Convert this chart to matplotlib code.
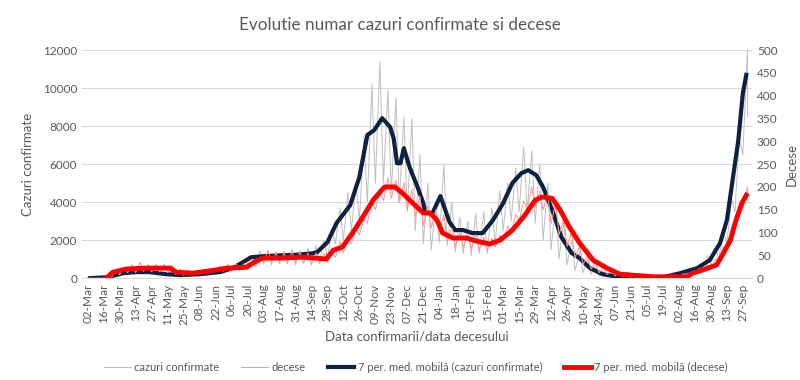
import matplotlib
matplotlib.use("Agg")
import matplotlib.pyplot as plt
import numpy as np
import pandas as pd

plt.rcParams["font.family"] = ["Lato", "DejaVu Sans"]

START = pd.Timestamp("2020-03-02")

# raw daily values, read as one weekly low (Mon) and high (Fri) per week
cases_lo = [0, 2, 15, 60, 190, 250, 240, 270, 190, 180, 150, 130, 110, 120, 150,
            180, 220, 280, 380, 520, 780, 900, 720, 700, 740, 750, 700, 800, 700,
            900, 1100, 1800, 2000, 2500, 3000, 4000, 5000, 5000, 4500, 4000, 3500,
            2500, 1800, 1500, 1900, 1700, 1400, 1300, 1200, 1300, 1300, 1800, 2500,
            3000, 3500, 3500, 2900, 2000, 1500, 1000, 700, 400, 300, 200, 100, 60,
            30, 25, 20, 20, 15, 20, 30, 60, 90, 150, 250, 400, 700, 1000, 1800,
            3500, 6500]
cases_hi = [3, 15, 50, 180, 320, 360, 440, 400, 380, 320, 290, 240, 200, 220, 250,
            320, 460, 500, 700, 880, 1150, 1450, 1450, 1400, 1450, 1500, 1450, 1600,
            1700, 2000, 2500, 3700, 4500, 5000, 7500, 10200, 11400, 9900, 9500,
            8500, 8400, 6500, 5000, 4000, 6000, 4000, 3200, 3000, 3400, 3500, 3700,
            4600, 5000, 5800, 6900, 6700, 6000, 5000, 4000, 3000, 2000, 1400, 1000,
            700, 400, 250, 150, 100, 80, 70, 70, 90, 130, 200, 330, 450, 700, 1200,
            1600, 2500, 4200, 7300, 12000]
deaths_lo = [0, 0, 0, 3, 8, 12, 12, 15, 14, 14, 12, 8, 6, 7, 8, 12, 14, 15, 15, 16,
             18, 25, 35, 35, 35, 35, 35, 32, 30, 32, 35, 45, 55, 75, 95, 120, 150,
             170, 175, 165, 150, 135, 115, 110, 100, 80, 70, 68, 65, 60, 60, 68, 80,
             100, 125, 150, 155, 150, 120, 95, 70, 45, 30, 20, 12, 8, 5, 3, 2, 1, 1,
             1, 1, 2, 3, 5, 8, 15, 22, 40, 60, 110, 150]
deaths_hi = [0, 0, 2, 15, 25, 30, 35, 30, 30, 30, 28, 20, 18, 16, 20, 22, 26, 30, 32,
             32, 40, 45, 60, 55, 55, 58, 58, 55, 55, 55, 55, 80, 85, 110, 130, 170,
             190, 220, 215, 210, 195, 180, 160, 150, 140, 110, 100, 95, 95, 90, 88,
             95, 115, 140, 170, 200, 190, 185, 165, 130, 100, 70, 50, 35, 25, 18, 12,
             10, 8, 6, 5, 5, 6, 7, 10, 14, 22, 30, 42, 70, 110, 160, 200]
last_day = 578
cases_last = 8500
deaths_last = 180

# 7-day moving averages, read at the turning points (day since 02-Mar-2020)
ma_cases_day = [2, 17, 31, 43, 54, 69, 81, 98, 116, 127, 136, 143, 155, 168, 182,
                196, 201, 210, 218, 230, 238, 245, 251, 258, 265, 268, 271, 274,
                277, 282, 289, 294, 296, 302, 309, 317, 322, 329, 337, 346, 355,
                364, 372, 380, 386, 393, 399, 407, 415, 424, 431, 440, 451, 466,
                504, 519, 534, 545, 554, 560, 565, 570, 574, 577]
ma_cases = [0, 50, 260, 320, 320, 210, 160, 210, 320, 530, 840, 1100, 1160, 1200,
            1230, 1300, 1370, 1890, 2900, 3840, 5320, 7530, 7790, 8420, 7950, 7370,
            6050, 6050, 6840, 5840, 4790, 3950, 3420, 3420, 4320, 2950, 2530, 2530,
            2370, 2370, 3050, 3950, 5000, 5530, 5680, 5420, 4790, 3580, 2160, 1320,
            1050, 530, 210, 50, 50, 260, 530, 950, 1840, 3050, 5160, 7260, 9740,
            10700]
ma_deaths_day = [17, 22, 34, 48, 63, 72, 78, 92, 104, 122, 139, 146, 153, 168, 189,
                 209, 215, 223, 232, 241, 250, 260, 269, 276, 285, 294, 300, 306,
                 311, 320, 332, 341, 352, 361, 372, 383, 392, 398, 407, 414, 422,
                 431, 443, 455, 466, 475, 496, 525, 530, 539, 551, 557, 563, 568,
                 573, 577]
ma_deaths = [2, 13, 20, 22, 22, 22, 13, 11, 15, 22, 24, 35, 44, 44, 46, 42, 61, 68,
             99, 134, 171, 200, 200, 186, 164, 143, 143, 127, 99, 88, 88, 81, 75,
             83, 105, 138, 171, 178, 175, 149, 112, 77, 39, 22, 9, 7, 3, 3, 11, 18,
             29, 55, 83, 127, 164, 182]

week_start = np.arange(len(cases_lo)) * 7
raw_day = np.append(np.column_stack([week_start, week_start + 4]).ravel(), last_day)
raw_cases = np.append(np.column_stack([cases_lo, cases_hi]).ravel(), cases_last)
raw_deaths = np.append(np.column_stack([deaths_lo, deaths_hi]).ravel(), deaths_last)

tick_days = np.arange(0, 575, 14)
tick_labels = [(START + pd.Timedelta(days=int(d))).strftime("%d-%b") for d in tick_days]

TXT = "#595959"
fig = plt.figure(figsize=(8, 3.8), dpi=100)
ax = fig.add_axes([0.1025, 0.268, 0.8375, 0.6])
ax2 = ax.twinx()

l1, = ax.plot(raw_day, raw_cases, color="#BFBFBF", lw=0.7, label="cazuri confirmate")
l3, = ax.plot(ma_cases_day, ma_cases, color="#0D2240", lw=3,
              label="7 per. med. mobilă (cazuri confirmate)")
l2, = ax2.plot(raw_day, raw_deaths, color="#F39A9A", lw=0.7, label="decese")
l4, = ax2.plot(ma_deaths_day, ma_deaths, color="#FF0000", lw=3.5,
               label="7 per. med. mobilă (decese)")

ax.set_xlim(-5, 582)
ax.set_ylim(0, 12000)
ax2.set_ylim(0, 500)
ax.set_yticks(np.arange(0, 12001, 2000))
ax2.set_yticks(np.arange(0, 501, 50))
ax.set_xticks(tick_days)
ax.set_xticklabels(tick_labels, rotation=90)
ax.grid(axis="y", color="#D9D9D9", lw=0.8)
ax.set_axisbelow(True)

for a in (ax, ax2):
    for s in a.spines.values():
        s.set_visible(False)
    a.tick_params(length=0, colors=TXT, labelsize=8.5)
ax.spines["bottom"].set_visible(True)
ax.spines["bottom"].set_color("#D9D9D9")
ax.tick_params(axis="x", pad=4)

ax.set_ylabel("Cazuri confirmate", color=TXT, fontsize=9.5, labelpad=6)
ax2.set_ylabel("Decese", color=TXT, fontsize=9.5, labelpad=6)
ax.set_xlabel("Data confirmarii/data decesului", color=TXT, fontsize=9.5, labelpad=4)
fig.suptitle("Evolutie numar cazuri confirmate si decese", color=TXT, fontsize=12.3,
             y=0.955)

fig.legend(handles=[l1, l2, l3, l4], loc="center", bbox_to_anchor=(0.52, 0.032),
           ncol=4, frameon=False, fontsize=8, labelcolor=TXT,
           handlelength=2.4, handletextpad=0.3, columnspacing=2.0)

fig.savefig("out.png", dpi=100)
